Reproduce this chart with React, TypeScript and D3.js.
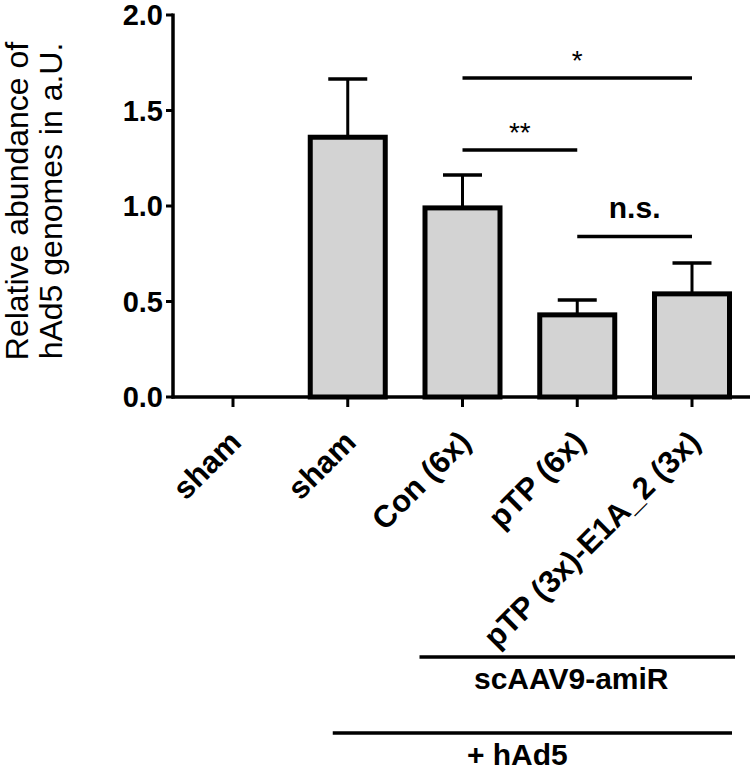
import React from "react";
import * as d3 from "d3";

const categories = ["sham", "sham", "Con (6x)", "pTP (6x)", "pTP (3x)-E1A_2 (3x)"];
const means = [0, 1.36, 0.99, 0.43, 0.54];
const errUpper = [0, 1.665, 1.162, 0.508, 0.702];
const yTicks = [0, 0.5, 1.0, 1.5, 2.0];
const sigFrom = [2, 2, 3];
const sigTo = [4, 3, 4];
const sigLevel = [1.67, 1.293, 0.84];
const sigLabel = ["*", "**", "n.s."];
const groupLabels = ["scAAV9-amiR", "+ hAd5"];
const groupFrom = [2, 1];
const groupTo = [4, 4];

const W = 755;
const H = 773;
const FONT = "'Liberation Sans', Arial, Helvetica, sans-serif";

export default function App() {
  const y = d3.scaleLinear().domain([0, 2]).range([397, 15]);
  const x = d3.scalePoint<number>().domain(d3.range(categories.length)).range([233, 692]);
  const axisLeft = 173;
  const axisRight = 750;
  const barW = 75;
  const capW = 39;

  return (
    <svg
      width={W}
      height={H}
      style={{ position: "absolute", left: 0, top: 0, background: "#fff" }}
      fontFamily={FONT}
    >
      {/* bars */}
      {means.map((m, i) =>
        m > 0 ? (
          <g key={"b" + i}>
            <line
              x1={x(i)!}
              x2={x(i)!}
              y1={y(m)}
              y2={y(errUpper[i])}
              stroke="#000"
              strokeWidth={3}
            />
            <line
              x1={x(i)! - capW / 2}
              x2={x(i)! + capW / 2}
              y1={y(errUpper[i])}
              y2={y(errUpper[i])}
              stroke="#000"
              strokeWidth={3.5}
            />
            <rect
              x={x(i)! - barW / 2}
              y={y(m)}
              width={barW}
              height={y(0) - y(m)}
              fill="#d3d3d3"
              stroke="#000"
              strokeWidth={5}
            />
          </g>
        ) : null
      )}

      {/* y axis */}
      <line x1={axisLeft} x2={axisLeft} y1={y(2) - 1.5} y2={y(0) + 1.5} stroke="#000" strokeWidth={3.5} />
      {yTicks.map((t) => (
        <g key={"yt" + t}>
          <line x1={axisLeft - 7} x2={axisLeft} y1={y(t)} y2={y(t)} stroke="#000" strokeWidth={3} />
          <text
            x={axisLeft - 10}
            y={y(t)}
            dy="0.36em"
            textAnchor="end"
            fontSize={29}
            fontWeight="bold"
          >
            {t.toFixed(1)}
          </text>
        </g>
      ))}

      {/* x axis */}
      <line x1={axisLeft - 1.5} x2={axisRight} y1={y(0)} y2={y(0)} stroke="#000" strokeWidth={3.5} />
      {categories.map((c, i) => (
        <g key={"xt" + i}>
          <line x1={x(i)!} x2={x(i)!} y1={y(0)} y2={y(0) + 10} stroke="#000" strokeWidth={3} />
          <text
            transform={`translate(${x(i)! + 10},${444}) rotate(-45)`}
            textAnchor="end"
            fontSize={31}
            fontWeight="bold"
          >
            {c}
          </text>
        </g>
      ))}

      {/* y title */}
      <text transform={`translate(28,201) rotate(-90)`} textAnchor="middle" fontSize={32}>
        Relative abundance of
      </text>
      <text transform={`translate(62,201) rotate(-90)`} textAnchor="middle" fontSize={32}>
        hAd5 genomes in a.U.
      </text>

      {/* significance */}
      {sigLabel.map((s, k) => {
        const x1 = x(sigFrom[k])!;
        const x2 = x(sigTo[k])!;
        const yy = y(sigLevel[k]);
        const isNs = s === "n.s.";
        return (
          <g key={"s" + k}>
            <line x1={x1} x2={x2} y1={yy} y2={yy} stroke="#000" strokeWidth={3.5} />
            <text
              x={(x1 + x2) / 2}
              y={isNs ? yy - 19 : yy - 8}
              textAnchor="middle"
              fontSize={isNs ? 30 : 28}
              fontWeight={isNs ? "bold" : "normal"}
            >
              {s}
            </text>
          </g>
        );
      })}

      {/* group brackets */}
      {groupLabels.map((g, k) => {
        const yy = k === 0 ? 657 : 733;
        const x1 = k === 0 ? x(groupFrom[k])! - 43 : x(groupFrom[k])! - 15;
        const x2 = x(groupTo[k])! + (k === 0 ? 43 : 40);
        return (
          <g key={"g" + k}>
            <line x1={x1} x2={x2} y1={yy} y2={yy} stroke="#000" strokeWidth={3.5} />
            <text
              x={k === 0 ? (x1 + x2) / 2 - 6 : (x1 + x2) / 2 - 15}
              y={yy + 32}
              textAnchor="middle"
              fontSize={30}
              fontWeight="bold"
            >
              {g}
            </text>
          </g>
        );
      })}
    </svg>
  );
}
